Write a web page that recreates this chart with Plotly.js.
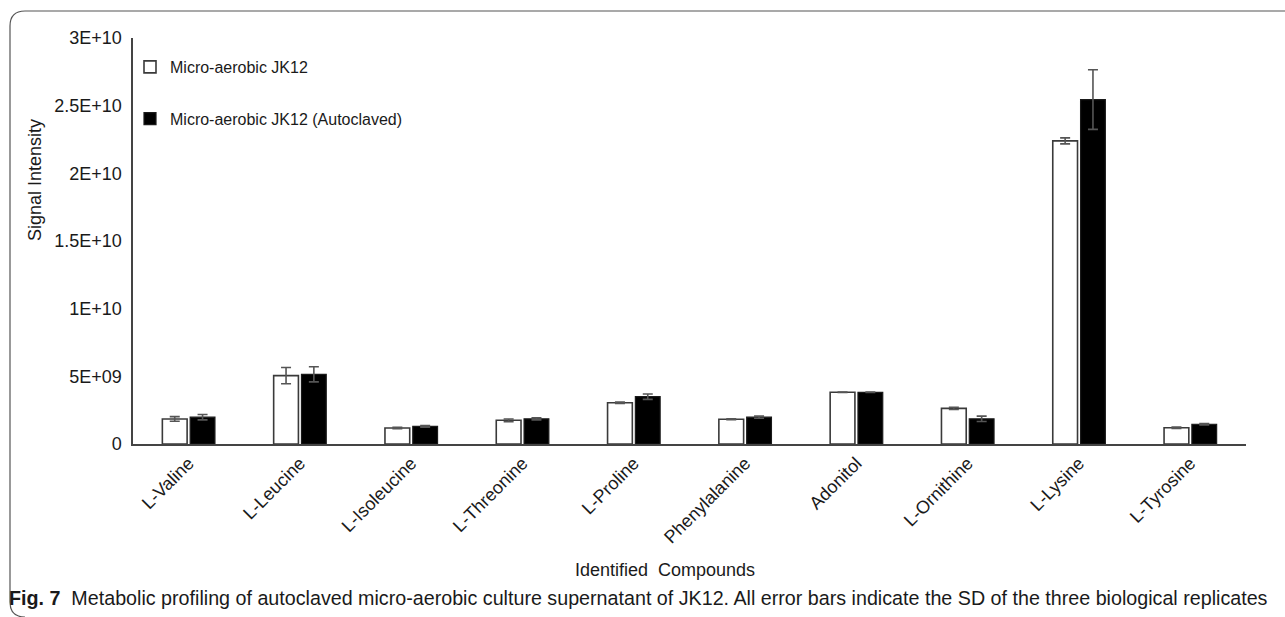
<!DOCTYPE html>
<html><head><meta charset="utf-8">
<script src="https://cdn.plot.ly/plotly-3.0.1.min.js"></script>
<style>html,body{margin:0;padding:0;background:#fff}#chart{width:1285px;height:617px}</style>
</head><body><div id="chart"></div>
<script>
const categories = ['L-Valine','L-Leucine','L-Isoleucine','L-Threonine','L-Proline','Phenylalanine','Adonitol','L-Ornithine','L-Lysine','L-Tyrosine'];
const seriesNames = ['Micro-aerobic JK12','Micro-aerobic JK12 (Autoclaved)'];
const jk12 = [1.85e9, 5.05e9, 1.18e9, 1.75e9, 3.05e9, 1.83e9, 3.82e9, 2.63e9, 22.4e9, 1.2e9];
const jk12Sd = [0.17e9, 0.6e9, 0.05e9, 0.1e9, 0.05e9, 0.04e9, 0.02e9, 0.08e9, 0.22e9, 0.06e9];
const autoclaved = [1.98e9, 5.15e9, 1.3e9, 1.86e9, 3.5e9, 1.98e9, 3.82e9, 1.86e9, 25.45e9, 1.46e9];
const autoclavedSd = [0.2e9, 0.56e9, 0.06e9, 0.08e9, 0.2e9, 0.08e9, 0.02e9, 0.2e9, 2.2e9, 0.06e9];
const yTickVals = [0, 5e9, 1e10, 1.5e10, 2e10, 2.5e10, 3e10];
const yTickText = ['0', '5E+09', '1E+10', '1.5E+10', '2E+10', '2.5E+10', '3E+10'];
const xTitle = 'Identified&nbsp;&nbsp;Compounds';
const yTitle = 'Signal Intensity';
const caption = '<b>Fig. 7</b>&nbsp;&nbsp;Metabolic profiling of autoclaved micro-aerobic culture supernatant of JK12. All error bars indicate the SD of the three biological replicates';

// plot area geometry (pixels)
const L = 133, R = 1246, T = 38, B = 444;
const W = 1285, H = 617;
const px = x => (x - L) / (R - L);
const py = y => (B - y) / (B - T);

const font = 'Liberation Sans, Arial, sans-serif';

const traces = [
  {
    type: 'bar', name: seriesNames[0], x: categories, y: jk12,
    legendgroup: 'a',
    marker: {color: '#ffffff', line: {color: '#3a3a3a', width: 1.6}},
    error_y: {type: 'data', array: jk12Sd, visible: true, color: '#555555', thickness: 1.6, width: 5}
  },
  {
    type: 'bar', name: seriesNames[1], x: categories, y: autoclaved,
    legendgroup: 'b',
    marker: {color: '#000000', line: {color: '#1a1a1a', width: 1.2}},
    error_y: {type: 'data', array: autoclavedSd, visible: true, color: '#555555', thickness: 1.6, width: 5}
  }
];

const border = 'M ' + px(1290) + ',' + py(11) + ' L ' + px(25) + ',' + py(11) +
  ' Q ' + px(10) + ',' + py(11) + ' ' + px(10) + ',' + py(26) +
  ' L ' + px(10) + ',' + py(602) + ' Q ' + px(10) + ',' + py(617) + ' ' + px(25) + ',' + py(617);

const layout = {
  width: W, height: H,
  margin: {l: L, r: W - R, t: T, b: H - B, pad: 0},
  paper_bgcolor: '#ffffff', plot_bgcolor: '#ffffff',
  font: {family: font, color: '#1a1a1a', size: 18},
  barmode: 'group', bargap: 0.5, bargroupgap: 0.11,
  showlegend: true,
  legend: {
    x: px(130), y: py(50), xanchor: 'left', yanchor: 'top',
    traceorder: 'grouped', tracegroupgap: 28,
    font: {family: font, size: 16, color: '#1a1a1a'},
    bgcolor: 'rgba(0,0,0,0)', borderwidth: 0
  },
  xaxis: {
    type: 'category', showline: true, linecolor: '#444444', linewidth: 1.6,
    showgrid: false, zeroline: false, ticks: '', tickangle: -45,
    tickfont: {family: font, size: 18, color: '#1a1a1a'}
  },
  yaxis: {
    range: [0, 3e10], showline: true, linecolor: '#444444', linewidth: 1.6,
    showgrid: false, zeroline: false, ticks: '',
    tickvals: yTickVals, ticktext: yTickText, ticklabelstandoff: 6,
    tickfont: {family: font, size: 18, color: '#1a1a1a'}
  },
  annotations: [
    {text: yTitle, xref: 'paper', yref: 'paper', x: px(35), y: py(180), textangle: -90,
     showarrow: false, xanchor: 'center', yanchor: 'middle', font: {family: font, size: 18, color: '#1a1a1a'}},
    {text: xTitle, xref: 'paper', yref: 'paper', x: px(665), y: py(570),
     showarrow: false, xanchor: 'center', yanchor: 'middle', font: {family: font, size: 18, color: '#1a1a1a'}},
    {text: caption, xref: 'paper', yref: 'paper', x: px(7), y: py(598),
     showarrow: false, xanchor: 'left', yanchor: 'middle',
     font: {family: 'Liberation Sans, Arial, sans-serif', size: 19.7, color: '#1a1a1a'}}
  ],
  shapes: [
    {type: 'path', xref: 'paper', yref: 'paper', path: border, line: {color: '#555555', width: 1.2}}
  ]
};

Plotly.newPlot('chart', traces, layout, {displayModeBar: false, staticPlot: true});
</script>
</body></html>
